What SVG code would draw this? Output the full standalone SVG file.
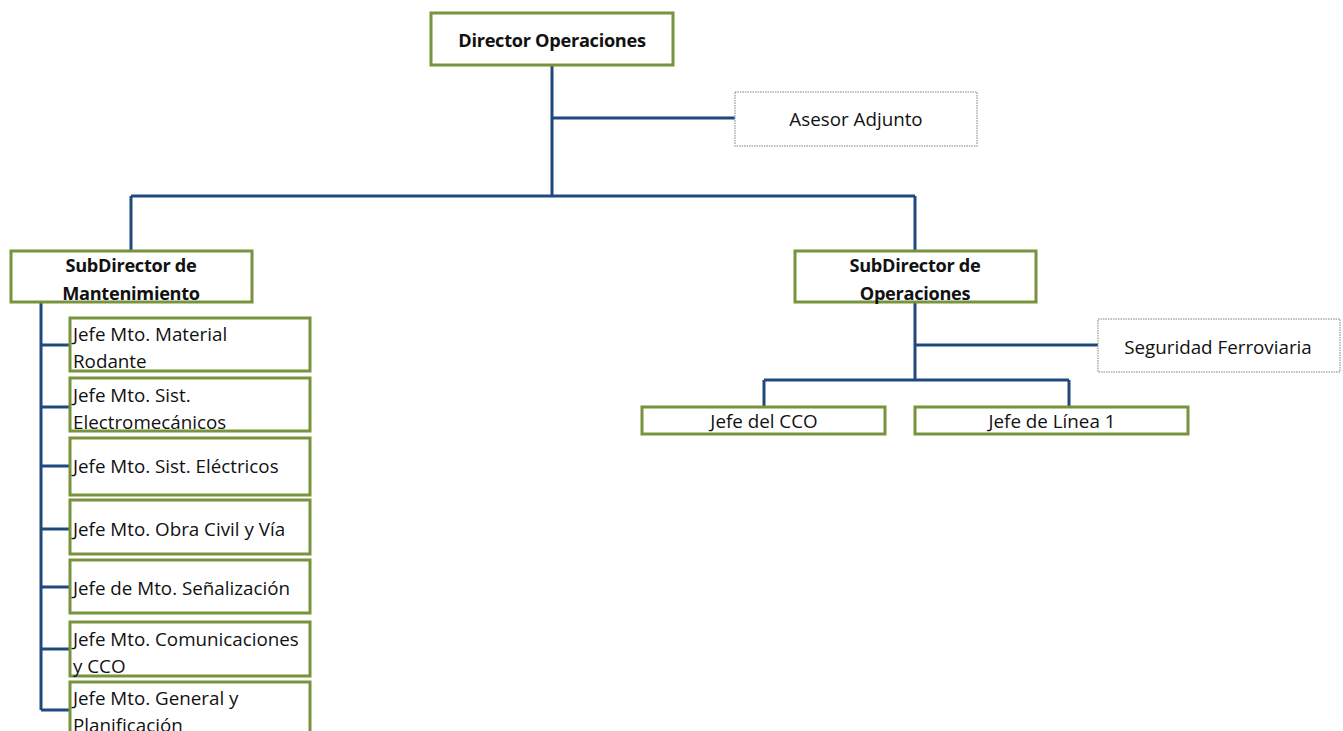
<svg xmlns="http://www.w3.org/2000/svg" width="1343" height="731" viewBox="0 0 1343 731">
<style>
.g{fill:#fff;stroke:#77933C;stroke-width:3}
.d{fill:#fff;stroke:#aaa;stroke-width:1.5;stroke-dasharray:1.5 1}
.c{fill:none;stroke:#1F497D;stroke-width:3}
text{font-family:"Open Sans",Lato,sans-serif;font-size:18.8px;fill:#111}
.b{font-weight:bold;font-size:18.2px;letter-spacing:-0.3px}
.m{text-anchor:middle}
</style>
<rect width="1343" height="731" fill="#fff"/>
<g id="connectors">
<path class="c" d="M552 66V196M552 118H735M131 196H915M131 196V251M915 196V251"/>
<path class="c" d="M41 302V710M41 345H70M41 407H70M41 466H70M41 529H70M41 587H70M41 649H70M41 710H70"/>
<path class="c" d="M915 302V380M915 345H1098M764 380H1069M764 380V407M1069 380V407"/>
</g>
<g id="director"><rect class="g" x="431" y="13" width="242" height="52"/><text class="b m" x="552" y="47">Director Operaciones</text></g>
<g id="asesor"><rect class="d" x="735" y="92" width="242" height="54"/><text class="m" x="856" y="126">Asesor Adjunto</text></g>
<g id="subMant"><rect class="g" x="11" y="251" width="241" height="51"/><text class="b m" x="131" y="272">SubDirector de</text><text class="b m" x="131" y="300">Mantenimiento</text></g>
<g id="subOps"><rect class="g" x="795" y="251" width="241" height="51"/><text class="b m" x="915" y="272">SubDirector de</text><text class="b m" x="915" y="300">Operaciones</text></g>
<g id="j1"><rect class="g" x="70" y="318" width="240" height="53"/><text x="73" y="341">Jefe Mto. Material</text><text x="73" y="368">Rodante</text></g>
<g id="j2"><rect class="g" x="70" y="378" width="240" height="53"/><text x="73" y="402">Jefe Mto. Sist.</text><text x="73" y="429">Electromecánicos</text></g>
<g id="j3"><rect class="g" x="70" y="438" width="240" height="57"/><text x="73" y="473">Jefe Mto. Sist. Eléctricos</text></g>
<g id="j4"><rect class="g" x="70" y="500" width="240" height="54"/><text x="73" y="536">Jefe Mto. Obra Civil y Vía</text></g>
<g id="j5"><rect class="g" x="70" y="560" width="240" height="53"/><text x="73" y="595">Jefe de Mto. Señalización</text></g>
<g id="j6"><rect class="g" x="70" y="622" width="240" height="54"/><text x="73" y="646">Jefe Mto. Comunicaciones</text><text x="73" y="673">y CCO</text></g>
<g id="j7"><rect class="g" x="70" y="682" width="240" height="60"/><text x="73" y="705">Jefe Mto. General y</text><text x="73" y="732">Planificación</text></g>
<g id="seguridad"><rect class="d" x="1098" y="319" width="242" height="53"/><text class="m" x="1218" y="354">Seguridad Ferroviaria</text></g>
<g id="cco"><rect class="g" x="642" y="407" width="243" height="27"/><text class="m" x="764" y="428">Jefe del CCO</text></g>
<g id="linea"><rect class="g" x="915" y="407" width="273" height="27"/><text class="m" x="1052" y="428">Jefe de Línea 1</text></g>
</svg>
